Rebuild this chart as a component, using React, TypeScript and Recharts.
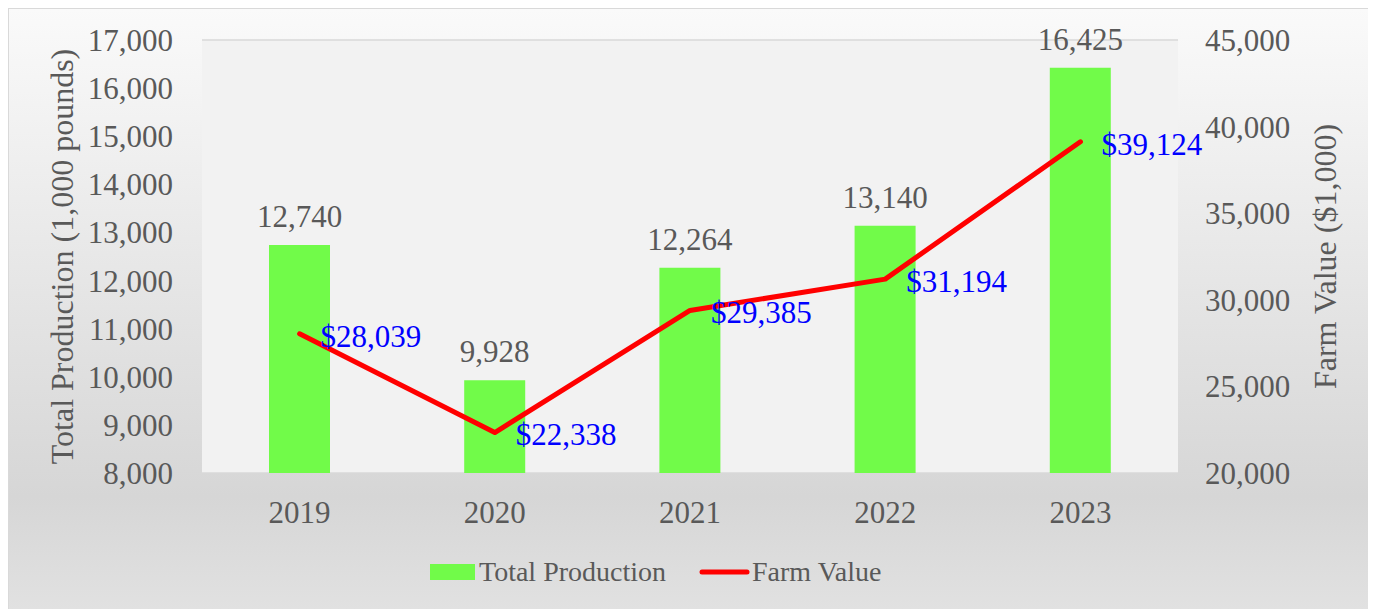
import React from "react";
import {
  ComposedChart,
  Bar,
  Line,
  XAxis,
  YAxis,
  CartesianGrid,
  Legend,
  LabelList,
} from "recharts";

const years = ["2019", "2020", "2021", "2022", "2023"];
const production = [12740, 9928, 12264, 13140, 16425];
const farmValue = [28039, 22338, 29385, 31194, 39124];
const leftTicks = [8000, 9000, 10000, 11000, 12000, 13000, 14000, 15000, 16000, 17000];
const rightTicks = [20000, 25000, 30000, 35000, 40000, 45000];

const data = years.map((year, i) => ({
  year,
  production: production[i],
  farmValue: farmValue[i],
}));

const FONT = '"Liberation Serif", "Times New Roman", serif';
const TEXT = "#595959";
const GREEN = "#71fb49";
const RED = "#ff0000";

const fmt = (v: number) => v.toLocaleString("en-US");

const AxisTitle = ({ viewBox, x, text }: any) => {
  const cy = viewBox.y + viewBox.height / 2;
  return (
    <text
      x={x}
      y={cy}
      transform={`rotate(-90, ${x}, ${cy})`}
      textAnchor="middle"
      dominantBaseline="central"
      fill={TEXT}
      fontSize={32}
      fontFamily={FONT}
    >
      {text}
    </text>
  );
};

const ValueLabel = (props: any) => {
  const { x, y, value } = props;
  return (
    <text
      x={x + 21}
      y={y + 2}
      dy="0.35em"
      textAnchor="start"
      fill="#0000ff"
      fontSize={31}
      fontFamily={FONT}
    >
      ${fmt(value)}
    </text>
  );
};

const LegendContent = () => (
  <div
    style={{
      display: "flex",
      alignItems: "center",
      fontFamily: FONT,
      fontSize: 28,
      color: TEXT,
      height: 32,
      whiteSpace: "nowrap",
    }}
  >
    <span style={{ width: 45, height: 16, background: GREEN, marginRight: 4 }} />
    <span>Total Production</span>
    <svg width={51} height={8} style={{ marginLeft: 33, marginRight: 2 }}>
      <line x1={3} y1={4} x2={48} y2={4} stroke={RED} strokeWidth={5} strokeLinecap="round" />
    </svg>
    <span>Farm Value</span>
  </div>
);

export default function App() {
  return (
    <div
      style={{
        width: 1362,
        height: 610,
        border: "1px solid #d9d9d9",
        background: "linear-gradient(to bottom, #fafafa 0%, #d6d6d6 80%, #e2e2e2 100%)",
      }}
    >
      <ComposedChart
        width={1362}
        height={610}
        data={data}
        margin={{ top: 31, right: 0, bottom: 86, left: 0 }}
        barCategoryGap={0}
      >
        <CartesianGrid vertical={false} stroke="#d9d9d9" strokeWidth={1.5} fill="#f2f2f2" />
        <XAxis
          dataKey="year"
          axisLine={false}
          tickLine={false}
          tickSize={0}
          tickMargin={28}
          height={60}
          tick={{ fill: TEXT, fontSize: 31, fontFamily: FONT }}
        />
        <YAxis
          yAxisId="left"
          orientation="left"
          width={193}
          domain={[8000, 17000]}
          ticks={leftTicks}
          interval={0}
          axisLine={false}
          tickLine={false}
          tickSize={0}
          tickMargin={29}
          tickFormatter={fmt}
          tick={{ fill: TEXT, fontSize: 31, fontFamily: FONT }}
          label={{
            content: (p: any) => (
              <AxisTitle {...p} x={53} text="Total Production (1,000 pounds)" />
            ),
          }}
        />
        <YAxis
          yAxisId="right"
          orientation="right"
          width={193}
          domain={[20000, 45000]}
          ticks={rightTicks}
          interval={0}
          axisLine={false}
          tickLine={false}
          tickSize={0}
          tickMargin={27}
          tickFormatter={fmt}
          tick={{ fill: TEXT, fontSize: 31, fontFamily: FONT }}
          label={{
            content: (p: any) => <AxisTitle {...p} x={1316} text="Farm Value ($1,000)" />,
          }}
        />
        <Legend
          verticalAlign="middle"
          align="center"
          layout="horizontal"
          content={<LegendContent />}
          wrapperStyle={{ top: 547, left: 421, width: "auto", height: 32 }}
        />
        <Bar
          yAxisId="left"
          dataKey="production"
          name="Total Production"
          fill={GREEN}
          barSize={61}
          isAnimationActive={false}
        >
          <LabelList
            dataKey="production"
            position="top"
            offset={18}
            formatter={(v: any) => fmt(v)}
            fill={TEXT}
            fontSize={31}
            fontFamily={FONT}
          />
        </Bar>
        <Line
          yAxisId="right"
          type="linear"
          dataKey="farmValue"
          name="Farm Value"
          stroke={RED}
          strokeWidth={5}
          strokeLinecap="round"
          strokeLinejoin="round"
          dot={false}
          activeDot={false}
          isAnimationActive={false}
        >
          <LabelList dataKey="farmValue" content={<ValueLabel />} />
        </Line>
      </ComposedChart>
    </div>
  );
}
